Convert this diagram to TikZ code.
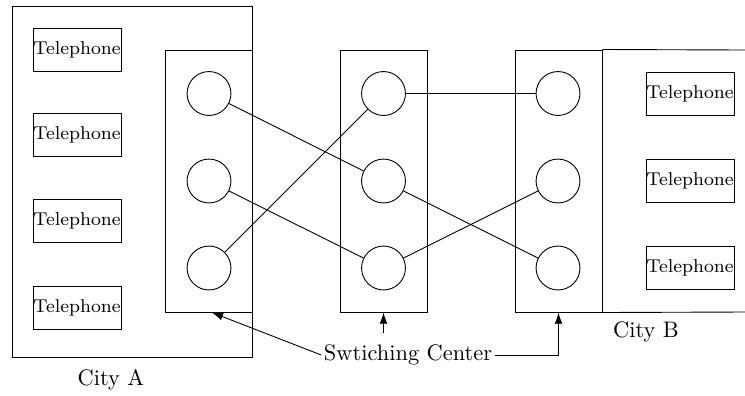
\documentclass[tikz,border=0pt]{standalone}
\usetikzlibrary{arrows.meta}
\begin{document}
\begin{tikzpicture}[x=0.4464pt,y=-0.4464pt,
  phone/.style={draw,rectangle,inner sep=0pt,minimum width=39.3pt,minimum height=19.2pt,font=\fontsize{8.3}{10}\selectfont},
  sw/.style={draw,circle,inner sep=0pt,minimum size=19.6pt},
  swbox/.style={draw,rectangle,inner sep=0pt,minimum width=38.8pt,minimum height=117pt},
  lbl/.style={font=\fontsize{10}{12}\selectfont,inner sep=1pt},
  arr/.style={-{Latex[length=5pt,width=3.5pt]}}]
\useasboundingbox (0,0) rectangle (745,395);
% City A
\node[draw,rectangle,inner sep=0pt,minimum width=107.1pt,minimum height=156.7pt] (cityA) at (132,181.5) {};
\node[phone] (ta1) at (77,49.5) {Telephone};
\node[phone] (ta2) at (77,135) {Telephone};
\node[phone] (ta3) at (77,221) {Telephone};
\node[phone] (ta4) at (77,307.5) {Telephone};
% switch boxes
\node[swbox] (swA) at (208.5,181) {};
\node[swbox] (swM) at (383.5,181) {};
\node[swbox] (swB) at (558.5,181) {};
% City B
\coordinate (cbT) at (745,50);
\coordinate (cbB) at (745,312);
\draw (swB.north east) -- (cbT);
\draw (swB.south east) -- (cbB);
\node[phone] (tb1) at (690,93.5) {Telephone};
\node[phone] (tb2) at (690,181) {Telephone};
\node[phone] (tb3) at (690,268) {Telephone};
% circles
\node[sw] (a1) at (209,93.5) {};
\node[sw] (a2) at (209,181) {};
\node[sw] (a3) at (209,268) {};
\node[sw] (m1) at (383.5,93.5) {};
\node[sw] (m2) at (383.5,181) {};
\node[sw] (m3) at (383.5,268) {};
\node[sw] (b1) at (558,93.5) {};
\node[sw] (b2) at (558,181) {};
\node[sw] (b3) at (558,268) {};
% connections
\draw (a1) -- (m2);
\draw (a2) -- (m3);
\draw (a3) -- (m1);
\draw (m1) -- (b1);
\draw (m2) -- (b3);
\draw (m3) -- (b2);
% labels
\node[lbl] (la) at (111,380) {City A};
\node[lbl] (lb) at (646,332) {City B};
\node[lbl] (sc) at (408,355) {Swtiching Center};
\coordinate (mstart) at (383.5,333);
\draw[arr] (sc.west) -- ([xshift=1.5pt]swA.south);
\draw[arr] (mstart) -- (swM.south);
\draw[arr] (sc.east) -| (swB.south);
\end{tikzpicture}
\end{document}
